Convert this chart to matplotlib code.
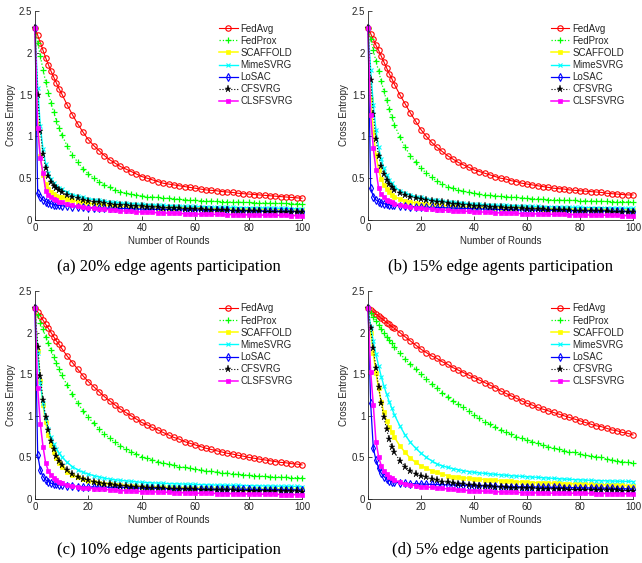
import matplotlib
matplotlib.use('Agg')
import matplotlib.pyplot as plt

# ---------------- data ----------------
rounds = [0, 1, 2, 3, 4, 5, 6, 7, 8, 9, 10,
          12, 14, 16, 18, 20, 22, 24, 26, 28, 30,
          32, 34, 36, 38, 40, 42, 44, 46, 48, 50,
          52, 54, 56, 58, 60, 62, 64, 66, 68, 70,
          72, 74, 76, 78, 80, 82, 84, 86, 88, 90, 92, 94, 96, 98, 100]

methods = ['FedAvg', 'FedProx', 'SCAFFOLD', 'MimeSVRG', 'LoSAC', 'CFSVRG', 'CLSFSVRG']
captions = ['(a) 20% edge agents participation', '(b) 15% edge agents participation',
            '(c) 10% edge agents participation', '(d) 5% edge agents participation']
x_ticks = [0, 20, 40, 60, 80, 100]
y_ticks = [0, 0.5, 1, 1.5, 2, 2.5]
y_tick_labels = ['0', '0.5', '1', '1.5', '2', '2.5']

# ---- (a) 20% ----
a_fedavg = [2.30, 2.21, 2.12, 2.03, 1.94, 1.86, 1.78, 1.71, 1.64, 1.57, 1.51,
            1.38, 1.26, 1.15, 1.05, 0.96, 0.89, 0.83, 0.77, 0.72, 0.68,
            0.64, 0.61, 0.58, 0.55, 0.52, 0.50, 0.48, 0.46, 0.44, 0.43,
            0.42, 0.41, 0.40, 0.39, 0.38, 0.37, 0.36, 0.355, 0.35, 0.34,
            0.335, 0.33, 0.32, 0.315, 0.31, 0.305, 0.30, 0.295, 0.29, 0.285, 0.28, 0.275, 0.27, 0.265, 0.26]
a_fedprox = [2.30, 2.12, 1.96, 1.80, 1.65, 1.52, 1.40, 1.29, 1.19, 1.10, 1.02,
             0.89, 0.78, 0.69, 0.61, 0.55, 0.50, 0.46, 0.42, 0.39, 0.36,
             0.34, 0.32, 0.31, 0.30, 0.29, 0.28, 0.275, 0.27, 0.265, 0.26,
             0.255, 0.25, 0.245, 0.24, 0.235, 0.232, 0.229, 0.226, 0.223, 0.22,
             0.218, 0.216, 0.214, 0.212, 0.21, 0.208, 0.206, 0.204, 0.202, 0.20, 0.199, 0.198, 0.197, 0.196, 0.195]
a_scaffold = [2.30, 1.15, 0.76, 0.54, 0.43, 0.37, 0.33, 0.31, 0.29, 0.28, 0.27,
              0.25, 0.235, 0.22, 0.21, 0.20, 0.195, 0.19, 0.18, 0.175, 0.17,
              0.167, 0.164, 0.161, 0.158, 0.155, 0.153, 0.151, 0.149, 0.147, 0.145,
              0.144, 0.143, 0.142, 0.141, 0.14, 0.139, 0.138, 0.137, 0.136, 0.135,
              0.134, 0.133, 0.132, 0.131, 0.13, 0.129, 0.128, 0.127, 0.126, 0.125, 0.124, 0.123, 0.122, 0.121, 0.12]
a_mime = [2.30, 1.58, 1.12, 0.85, 0.67, 0.56, 0.49, 0.44, 0.41, 0.385, 0.365,
          0.33, 0.305, 0.285, 0.27, 0.255, 0.245, 0.235, 0.225, 0.215, 0.21,
          0.205, 0.20, 0.196, 0.192, 0.188, 0.184, 0.181, 0.178, 0.175, 0.172,
          0.17, 0.168, 0.166, 0.164, 0.162, 0.16, 0.158, 0.156, 0.154, 0.152,
          0.151, 0.15, 0.149, 0.148, 0.147, 0.146, 0.145, 0.144, 0.143, 0.142, 0.14, 0.138, 0.136, 0.134, 0.132]
a_losac = [2.30, 0.32, 0.27, 0.24, 0.22, 0.205, 0.195, 0.185, 0.18, 0.175, 0.17,
           0.165, 0.16, 0.155, 0.15, 0.148, 0.146, 0.144, 0.142, 0.141, 0.14,
           0.138, 0.136, 0.134, 0.132, 0.13, 0.129, 0.128, 0.127, 0.126, 0.125,
           0.124, 0.123, 0.122, 0.121, 0.12, 0.119, 0.118, 0.117, 0.116, 0.115,
           0.114, 0.113, 0.112, 0.111, 0.11, 0.109, 0.108, 0.107, 0.106, 0.105, 0.104, 0.103, 0.102, 0.101, 0.10]
a_cfsvrg = [2.30, 1.49, 1.06, 0.79, 0.62, 0.53, 0.46, 0.41, 0.38, 0.355, 0.335,
            0.30, 0.28, 0.26, 0.245, 0.23, 0.22, 0.21, 0.20, 0.19, 0.185,
            0.18, 0.176, 0.172, 0.168, 0.164, 0.16, 0.156, 0.152, 0.148, 0.144,
            0.141, 0.138, 0.135, 0.132, 0.129, 0.126, 0.123, 0.12, 0.118, 0.116,
            0.114, 0.112, 0.11, 0.108, 0.106, 0.104, 0.102, 0.10, 0.099, 0.098, 0.096, 0.095, 0.094, 0.092, 0.09]
a_clsfsvrg = [2.30, 1.10, 0.74, 0.56, 0.35, 0.30, 0.27, 0.25, 0.235, 0.22, 0.21,
              0.19, 0.175, 0.165, 0.155, 0.145, 0.14, 0.135, 0.128, 0.122, 0.115,
              0.11, 0.106, 0.102, 0.098, 0.095, 0.092, 0.09, 0.087, 0.085, 0.082,
              0.08, 0.078, 0.076, 0.074, 0.072, 0.07, 0.069, 0.068, 0.067, 0.066,
              0.065, 0.064, 0.063, 0.062, 0.061, 0.06, 0.059, 0.058, 0.057, 0.056, 0.055, 0.054, 0.053, 0.052, 0.05]

# ---- (b) 15% ----
b_fedavg = [2.30, 2.23, 2.16, 2.09, 2.03, 1.96, 1.89, 1.82, 1.75, 1.69, 1.62,
            1.50, 1.39, 1.28, 1.18, 1.08, 1.00, 0.93, 0.87, 0.82, 0.77,
            0.73, 0.69, 0.66, 0.63, 0.60, 0.58, 0.56, 0.54, 0.52, 0.50,
            0.49, 0.47, 0.46, 0.44, 0.43, 0.42, 0.41, 0.40, 0.39, 0.38,
            0.375, 0.37, 0.36, 0.355, 0.35, 0.345, 0.34, 0.335, 0.33, 0.32, 0.315, 0.31, 0.305, 0.30, 0.30]
b_fedprox = [2.30, 2.17, 2.03, 1.90, 1.78, 1.66, 1.54, 1.43, 1.33, 1.23, 1.14,
             0.99, 0.87, 0.77, 0.69, 0.62, 0.56, 0.51, 0.47, 0.43, 0.40,
             0.38, 0.36, 0.345, 0.33, 0.32, 0.31, 0.30, 0.295, 0.29, 0.285,
             0.28, 0.275, 0.27, 0.265, 0.26, 0.256, 0.252, 0.248, 0.245, 0.242,
             0.24, 0.238, 0.236, 0.234, 0.232, 0.23, 0.228, 0.226, 0.224, 0.222, 0.221, 0.22, 0.219, 0.218, 0.217]
b_scaffold = [2.30, 1.45, 1.05, 0.78, 0.60, 0.49, 0.42, 0.37, 0.33, 0.30, 0.28,
              0.25, 0.23, 0.215, 0.205, 0.195, 0.19, 0.185, 0.18, 0.175, 0.17,
              0.167, 0.164, 0.161, 0.158, 0.155, 0.153, 0.151, 0.149, 0.147, 0.145,
              0.144, 0.143, 0.142, 0.141, 0.14, 0.139, 0.138, 0.137, 0.136, 0.135,
              0.134, 0.133, 0.132, 0.131, 0.13, 0.129, 0.128, 0.127, 0.126, 0.125, 0.124, 0.123, 0.122, 0.121, 0.12]
b_mime = [2.30, 1.80, 1.38, 1.08, 0.87, 0.73, 0.62, 0.54, 0.48, 0.44, 0.40,
          0.35, 0.32, 0.30, 0.28, 0.27, 0.255, 0.245, 0.235, 0.225, 0.22,
          0.214, 0.208, 0.202, 0.196, 0.19, 0.187, 0.184, 0.181, 0.178, 0.175,
          0.174, 0.172, 0.17, 0.168, 0.166, 0.164, 0.162, 0.16, 0.158, 0.157,
          0.156, 0.155, 0.154, 0.152, 0.15, 0.149, 0.148, 0.147, 0.146, 0.145, 0.144, 0.143, 0.142, 0.141, 0.14]
b_losac = [2.30, 0.38, 0.28, 0.24, 0.22, 0.205, 0.195, 0.19, 0.185, 0.18, 0.175,
           0.17, 0.165, 0.16, 0.157, 0.155, 0.153, 0.151, 0.149, 0.147, 0.145,
           0.143, 0.141, 0.139, 0.137, 0.135, 0.133, 0.131, 0.129, 0.127, 0.125,
           0.124, 0.123, 0.122, 0.121, 0.12, 0.119, 0.118, 0.117, 0.116, 0.115,
           0.114, 0.113, 0.112, 0.111, 0.11, 0.109, 0.108, 0.107, 0.106, 0.105, 0.104, 0.103, 0.102, 0.101, 0.10]
b_cfsvrg = [2.30, 1.68, 1.27, 0.97, 0.77, 0.64, 0.55, 0.48, 0.43, 0.39, 0.36,
            0.32, 0.30, 0.28, 0.265, 0.25, 0.24, 0.23, 0.22, 0.21, 0.20,
            0.195, 0.19, 0.185, 0.178, 0.17, 0.166, 0.162, 0.158, 0.154, 0.15,
            0.147, 0.144, 0.141, 0.138, 0.135, 0.132, 0.129, 0.126, 0.123, 0.12,
            0.118, 0.116, 0.114, 0.112, 0.11, 0.108, 0.106, 0.104, 0.103, 0.102, 0.10, 0.099, 0.098, 0.096, 0.095]
b_clsfsvrg = [2.30, 1.25, 0.86, 0.60, 0.38, 0.31, 0.27, 0.245, 0.225, 0.21, 0.195,
              0.18, 0.165, 0.155, 0.145, 0.14, 0.135, 0.13, 0.125, 0.12, 0.115,
              0.112, 0.109, 0.106, 0.103, 0.10, 0.097, 0.094, 0.091, 0.088, 0.085,
              0.083, 0.081, 0.079, 0.077, 0.075, 0.074, 0.072, 0.071, 0.069, 0.068,
              0.067, 0.066, 0.065, 0.063, 0.062, 0.061, 0.06, 0.059, 0.058, 0.057, 0.056, 0.055, 0.053, 0.052, 0.05]

# ---- (c) 10% ----
c_fedavg = [2.30, 2.25, 2.20, 2.15, 2.10, 2.05, 2.00, 1.95, 1.90, 1.86, 1.81,
            1.72, 1.64, 1.56, 1.48, 1.41, 1.35, 1.29, 1.23, 1.18, 1.13,
            1.08, 1.04, 1.00, 0.96, 0.92, 0.89, 0.86, 0.83, 0.80, 0.77,
            0.74, 0.72, 0.69, 0.67, 0.65, 0.63, 0.61, 0.595, 0.58, 0.565,
            0.55, 0.54, 0.525, 0.515, 0.50, 0.49, 0.48, 0.47, 0.46, 0.45, 0.44, 0.435, 0.425, 0.42, 0.41]
c_fedprox = [2.30, 2.21, 2.12, 2.04, 1.95, 1.87, 1.79, 1.71, 1.63, 1.56, 1.49,
             1.37, 1.26, 1.15, 1.06, 0.98, 0.91, 0.84, 0.78, 0.73, 0.68,
             0.64, 0.60, 0.57, 0.54, 0.51, 0.49, 0.47, 0.45, 0.435, 0.42,
             0.405, 0.39, 0.38, 0.37, 0.36, 0.35, 0.34, 0.332, 0.325, 0.318,
             0.31, 0.304, 0.298, 0.292, 0.287, 0.282, 0.278, 0.274, 0.27, 0.267, 0.264, 0.261, 0.258, 0.256, 0.254]
c_scaffold = [2.30, 1.78, 1.42, 1.13, 0.92, 0.77, 0.65, 0.56, 0.49, 0.43, 0.39,
              0.33, 0.29, 0.26, 0.235, 0.215, 0.205, 0.195, 0.185, 0.177, 0.17,
              0.166, 0.162, 0.158, 0.154, 0.15, 0.148, 0.146, 0.144, 0.142, 0.14,
              0.139, 0.138, 0.137, 0.136, 0.135, 0.134, 0.133, 0.132, 0.131, 0.13,
              0.129, 0.128, 0.127, 0.126, 0.125, 0.125, 0.124, 0.124, 0.123, 0.123, 0.122, 0.122, 0.121, 0.121, 0.12]
c_mime = [2.30, 1.75, 1.40, 1.15, 0.97, 0.84, 0.74, 0.66, 0.60, 0.55, 0.51,
          0.44, 0.39, 0.35, 0.32, 0.30, 0.28, 0.265, 0.25, 0.24, 0.23,
          0.224, 0.218, 0.212, 0.206, 0.20, 0.197, 0.194, 0.191, 0.188, 0.185,
          0.183, 0.181, 0.179, 0.177, 0.175, 0.173, 0.171, 0.169, 0.167, 0.166,
          0.165, 0.164, 0.163, 0.162, 0.16, 0.159, 0.158, 0.157, 0.156, 0.155, 0.154, 0.153, 0.152, 0.151, 0.15]
c_losac = [2.30, 0.53, 0.35, 0.27, 0.23, 0.21, 0.19, 0.18, 0.175, 0.17, 0.165,
           0.16, 0.155, 0.15, 0.148, 0.145, 0.144, 0.143, 0.142, 0.141, 0.14,
           0.139, 0.138, 0.136, 0.134, 0.13, 0.129, 0.128, 0.127, 0.126, 0.125,
           0.124, 0.123, 0.122, 0.121, 0.12, 0.119, 0.119, 0.118, 0.118, 0.117,
           0.117, 0.116, 0.116, 0.115, 0.115, 0.114, 0.114, 0.113, 0.113, 0.112, 0.112, 0.111, 0.111, 0.11, 0.11]
c_cfsvrg = [2.30, 1.83, 1.48, 1.19, 0.98, 0.83, 0.70, 0.60, 0.52, 0.46, 0.41,
            0.35, 0.30, 0.27, 0.245, 0.225, 0.21, 0.195, 0.185, 0.175, 0.165,
            0.16, 0.155, 0.15, 0.145, 0.14, 0.137, 0.134, 0.131, 0.128, 0.125,
            0.123, 0.121, 0.119, 0.117, 0.115, 0.113, 0.111, 0.109, 0.107, 0.105,
            0.104, 0.103, 0.102, 0.101, 0.10, 0.099, 0.098, 0.097, 0.096, 0.095, 0.094, 0.093, 0.092, 0.091, 0.09]
c_clsfsvrg = [2.30, 1.34, 0.90, 0.63, 0.43, 0.34, 0.29, 0.25, 0.225, 0.205, 0.19,
              0.17, 0.155, 0.145, 0.135, 0.13, 0.125, 0.12, 0.115, 0.11, 0.105,
              0.102, 0.099, 0.096, 0.093, 0.09, 0.088, 0.086, 0.084, 0.082, 0.08,
              0.078, 0.076, 0.074, 0.072, 0.07, 0.069, 0.068, 0.067, 0.066, 0.065,
              0.064, 0.063, 0.062, 0.061, 0.06, 0.059, 0.058, 0.057, 0.056, 0.055, 0.054, 0.053, 0.052, 0.051, 0.05]

# ---- (d) 5% ----
d_fedavg = [2.30, 2.27, 2.25, 2.22, 2.20, 2.17, 2.15, 2.12, 2.10, 2.07, 2.05,
            2.00, 1.95, 1.90, 1.85, 1.80, 1.76, 1.72, 1.69, 1.65, 1.62,
            1.58, 1.55, 1.52, 1.49, 1.46, 1.43, 1.40, 1.37, 1.34, 1.30,
            1.27, 1.24, 1.21, 1.18, 1.15, 1.13, 1.10, 1.08, 1.06, 1.04,
            1.02, 1.00, 0.98, 0.96, 0.94, 0.92, 0.90, 0.88, 0.87, 0.85, 0.83, 0.82, 0.80, 0.79, 0.77]
d_fedprox = [2.30, 2.24, 2.19, 2.14, 2.09, 2.04, 1.99, 1.95, 1.91, 1.87, 1.83,
             1.75, 1.68, 1.62, 1.56, 1.50, 1.44, 1.38, 1.33, 1.28, 1.23,
             1.18, 1.14, 1.10, 1.06, 1.01, 0.97, 0.93, 0.90, 0.86, 0.83,
             0.80, 0.78, 0.75, 0.73, 0.71, 0.69, 0.67, 0.65, 0.63, 0.61,
             0.60, 0.58, 0.57, 0.56, 0.54, 0.53, 0.52, 0.51, 0.50, 0.48, 0.47, 0.46, 0.45, 0.44, 0.43]
d_scaffold = [2.30, 2.00, 1.75, 1.52, 1.33, 1.17, 1.04, 0.94, 0.86, 0.80, 0.74,
              0.64, 0.56, 0.49, 0.44, 0.40, 0.37, 0.34, 0.32, 0.30, 0.28,
              0.27, 0.263, 0.256, 0.25, 0.244, 0.239, 0.234, 0.229, 0.224, 0.22,
              0.216, 0.212, 0.208, 0.204, 0.20, 0.198, 0.196, 0.194, 0.192, 0.19,
              0.188, 0.186, 0.184, 0.182, 0.18, 0.178, 0.176, 0.174, 0.172, 0.17, 0.168, 0.166, 0.164, 0.162, 0.16]
d_mime = [2.30, 2.07, 1.90, 1.74, 1.60, 1.47, 1.36, 1.26, 1.17, 1.09, 1.01,
          0.88, 0.77, 0.68, 0.61, 0.55, 0.50, 0.46, 0.42, 0.40, 0.38,
          0.365, 0.352, 0.34, 0.33, 0.32, 0.314, 0.308, 0.302, 0.296, 0.29,
          0.285, 0.28, 0.276, 0.272, 0.268, 0.264, 0.26, 0.256, 0.252, 0.248,
          0.244, 0.24, 0.236, 0.233, 0.23, 0.227, 0.224, 0.222, 0.22, 0.218, 0.216, 0.214, 0.212, 0.211, 0.21]
d_losac = [2.30, 1.15, 0.61, 0.47, 0.37, 0.31, 0.27, 0.24, 0.22, 0.21, 0.20,
           0.195, 0.19, 0.185, 0.182, 0.18, 0.178, 0.176, 0.174, 0.172, 0.17,
           0.168, 0.166, 0.164, 0.162, 0.16, 0.158, 0.156, 0.154, 0.152, 0.15,
           0.149, 0.148, 0.147, 0.146, 0.145, 0.144, 0.143, 0.142, 0.141, 0.14,
           0.139, 0.138, 0.137, 0.136, 0.135, 0.134, 0.133, 0.132, 0.131, 0.13, 0.128, 0.126, 0.124, 0.122, 0.12]
d_cfsvrg = [2.30, 2.05, 1.81, 1.57, 1.35, 1.15, 0.98, 0.84, 0.72, 0.63, 0.56,
            0.46, 0.39, 0.34, 0.30, 0.28, 0.26, 0.24, 0.225, 0.21, 0.20,
            0.192, 0.185, 0.178, 0.172, 0.166, 0.161, 0.156, 0.151, 0.146, 0.142,
            0.139, 0.136, 0.134, 0.132, 0.13, 0.128, 0.126, 0.124, 0.122, 0.12,
            0.118, 0.116, 0.114, 0.112, 0.11, 0.109, 0.108, 0.107, 0.106, 0.105, 0.104, 0.103, 0.102, 0.101, 0.10]
d_clsfsvrg = [2.30, 1.53, 1.13, 0.69, 0.51, 0.40, 0.34, 0.30, 0.27, 0.25, 0.23,
              0.20, 0.185, 0.17, 0.16, 0.15, 0.145, 0.14, 0.135, 0.13, 0.12,
              0.115, 0.11, 0.106, 0.102, 0.10, 0.097, 0.094, 0.091, 0.088, 0.085,
              0.083, 0.081, 0.079, 0.077, 0.075, 0.074, 0.073, 0.072, 0.071, 0.07,
              0.07, 0.069, 0.069, 0.068, 0.068, 0.067, 0.067, 0.066, 0.066, 0.065, 0.065, 0.064, 0.063, 0.062, 0.06]

panels = [
    [a_fedavg, a_fedprox, a_scaffold, a_mime, a_losac, a_cfsvrg, a_clsfsvrg],
    [b_fedavg, b_fedprox, b_scaffold, b_mime, b_losac, b_cfsvrg, b_clsfsvrg],
    [c_fedavg, c_fedprox, c_scaffold, c_mime, c_losac, c_cfsvrg, c_clsfsvrg],
    [d_fedavg, d_fedprox, d_scaffold, d_mime, d_losac, d_cfsvrg, d_clsfsvrg],
]

# ---------------- styles ----------------
styles = [
    dict(color='#ff0000', ls='-', marker='o', ms=3.9, mfc='none', mew=0.8, lw=0.8),
    dict(color='#00ff00', ls=':', marker='+', ms=4.0, mew=0.9, lw=0.9),
    dict(color='#ffff00', ls='-', marker='s', ms=2.4, mew=0.5, lw=1.1),
    dict(color='#00ffff', ls='-', marker='x', ms=3.0, mew=0.8, lw=1.0),
    dict(color='#0000ff', ls='-', marker='d', ms=3.6, mfc='none', mew=0.8, lw=0.9),
    dict(color='#000000', ls=':', marker='*', ms=5.2, mew=0.3, lw=0.8),
    dict(color='#ff00ff', ls='-', marker='s', ms=2.8, mew=0.5, lw=1.1),
]

plt.rcParams['font.family'] = ['Liberation Sans', 'DejaVu Sans']
axis_gray = '#262626'

W, H = 642, 563
fig = plt.figure(figsize=(W / 100, H / 100), dpi=100)

# axes boxes in pixels: left, top, right, bottom
boxes = [(35, 11, 302, 220), (368, 11, 633, 220),
         (35, 291, 302, 499), (368, 291, 633, 499)]
caption_y = [267, 550]

for k, (l, t, r, b) in enumerate(boxes):
    ax = fig.add_axes([l / W, 1 - b / H, (r - l) / W, (b - t) / H])
    for vals, name, st in zip(panels[k], methods, styles):
        ax.plot(rounds, vals, label=name, clip_on=False, **st)
    ax.set_xlim(0, 100)
    ax.set_ylim(0, 2.5)
    ax.set_xticks(x_ticks)
    ax.set_yticks(y_ticks)
    ax.set_yticklabels(y_tick_labels)
    for side in ['top', 'right']:
        ax.spines[side].set_visible(False)
    for side in ['left', 'bottom']:
        ax.spines[side].set_color(axis_gray)
        ax.spines[side].set_linewidth(0.6)
    ax.tick_params(direction='in', length=3, width=0.6, colors=axis_gray,
                   labelsize=7, pad=2)
    ax.set_xlabel('Number of Rounds', fontsize=7, color=axis_gray, va='center')
    ax.xaxis.set_label_coords(0.5, -21 / (b - t))
    ax.set_ylabel('Cross Entropy', fontsize=7, color=axis_gray, va='center')
    ax.yaxis.set_label_coords(-24 / (r - l), 0.5)
    leg = ax.legend(loc='upper left', bbox_to_anchor=(0.69, 0.94), frameon=False,
                    fontsize=7, numpoints=1, handlelength=1.9, handletextpad=0.3,
                    labelspacing=0.22, borderpad=0, borderaxespad=0)
    for txt in leg.get_texts():
        txt.set_color(axis_gray)
    fig.text((l + r) / 2 / W, 1 - caption_y[k // 2] / H, captions[k],
             ha='center', va='center', fontsize=12,
             family=['Liberation Serif', 'DejaVu Serif'])

fig.savefig('out.png', dpi=100)
